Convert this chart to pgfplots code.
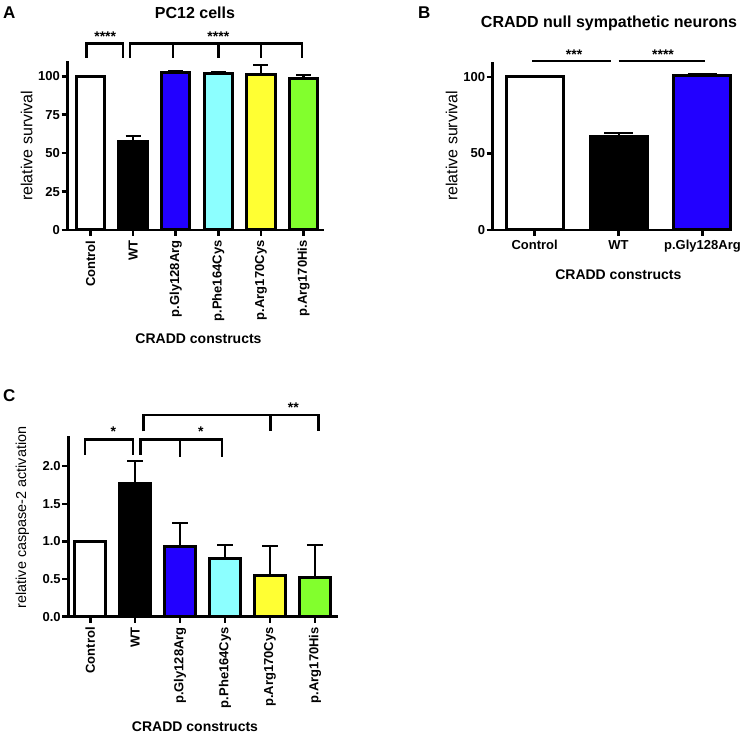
\documentclass[border=0pt]{standalone}
\usepackage{pgfplots}
\pgfplotsset{compat=1.18}
\usepackage{fontspec}
\setmainfont{Liberation Sans}
\definecolor{cblue}{RGB}{34,0,255}
\definecolor{ccyan}{RGB}{140,255,255}
\definecolor{cyel}{RGB}{255,255,51}
\definecolor{cgreen}{RGB}{130,255,45}
\newcommand{\fs}[1]{\fontsize{#1}{#1}\selectfont}
\tikzset{brk/.style={line width=2.6pt, line join=miter}}
\pgfplotsset{
  prism/.style={
    scale only axis,
    anchor=south west,
    axis lines=left,
    axis line style={-, line width=2.8pt},
    tick align=outside,
    major tick length=6pt,
    tick style={line width=2.5pt, black},
    ymin=0,
    clip=false,
    /pgf/number format/assume math mode=true,
    tick label style={font=\bfseries\fs{13}},
    yticklabel style={inner sep=1.5pt},
    xticklabel style={yshift=-1pt},
  },
  pbar/.style={ybar, bar shift=0pt, draw=black, line width=3pt},
  ebar/.style={ybar, bar shift=0pt, draw=black, line width=3pt,
    error bars/y dir=plus, error bars/y explicit,
    error bars/error bar style={line width=2.1pt, black},
    error bars/error mark=|,
    error bars/error mark options={mark size=#1, line width=2.1pt, black}},
  ebar/.default=7.5pt,
}
\begin{document}
\begin{tikzpicture}
\useasboundingbox (0,0) rectangle (747pt,733pt);

% ---------------- Panel A ----------------
\begin{axis}[prism, at={(67.5pt,503pt)}, width=256.5pt, height=169.1pt,
  xmin=-0.54, xmax=5.48, ymax=110, ytick={0,25,50,75,100},
  xtick={0,1,2,3,4,5},
  xticklabels={Control,WT,p.Gly128Arg,p.Phe164Cys,p.Arg170Cys,p.Arg170His},
  xticklabel style={rotate=90, anchor=east},
  bar width=28.5pt]
\addplot[pbar, fill=white] coordinates {(0,100)};
\addplot[ebar, fill=black] coordinates {(1,57.3) +- (0,4.0)};
\addplot[ebar, fill=cblue] coordinates {(2,102.7) +- (0,1.0)};
\addplot[ebar, fill=ccyan] coordinates {(3,101.9) +- (0,1.0)};
\addplot[ebar, fill=cyel] coordinates {(4,101.4) +- (0,5.9)};
\addplot[ebar, fill=cgreen] coordinates {(5,98.3) +- (0,2.7)};
\draw[brk] (axis cs:-0.1,112) -- (axis cs:-0.1,121.5) -- (axis cs:0.76,121.5) -- (axis cs:0.76,112);
\draw[brk] (axis cs:0.93,112) -- (axis cs:0.93,121.5) -- (axis cs:4.96,121.5) -- (axis cs:4.96,112);
\draw[brk] (axis cs:1.94,121.5) -- (axis cs:1.94,112);
\draw[brk] (axis cs:3.0,121.5) -- (axis cs:3.0,112);
\draw[brk] (axis cs:4.0,121.5) -- (axis cs:4.0,112);
\node[anchor=base, font=\bfseries\fs{14}, inner sep=0pt] at (axis cs:0.345,122.6) {****};
\node[anchor=base, font=\bfseries\fs{14}, inner sep=0pt] at (axis cs:3.0,122.6) {****};
\end{axis}

% ---------------- Panel B ----------------
\begin{axis}[prism, at={(492.7pt,503pt)}, width=238.3pt, height=168.3pt,
  xmin=-0.5, xmax=2.34, ymax=110, ytick={0,50,100},
  xtick={0,1,2},
  xticklabels={Control,WT,p.Gly128Arg},
  xticklabel style={anchor=north},
  bar width=57pt]
\addplot[pbar, fill=white] coordinates {(0,100)};
\addplot[ebar=14.5pt, fill=black] coordinates {(1,61.4) +- (0,1.8)};
\addplot[ebar=14.5pt, fill=cblue] coordinates {(2,100.8) +- (0,1.0)};
\draw[brk] (axis cs:-0.03,110.4) -- (axis cs:0.907,110.4);
\draw[brk] (axis cs:1.0,110.4) -- (axis cs:2.03,110.4);
\node[anchor=base, font=\bfseries\fs{14}, inner sep=0pt] at (axis cs:0.47,111.4) {***};
\node[anchor=base, font=\bfseries\fs{14}, inner sep=0pt] at (axis cs:1.53,111.4) {****};
\end{axis}

% ---------------- Panel C ----------------
\begin{axis}[prism, at={(68.3pt,116.3pt)}, width=270pt, height=180.7pt,
  xmin=-0.49, xmax=5.52, ymax=2.4, ytick={0,0.5,1.0,1.5,2.0},
  yticklabel style={/pgf/number format/.cd, fixed, fixed zerofill, precision=1},
  xtick={0,1,2,3,4,5},
  xticklabels={Control,WT,p.Gly128Arg,p.Phe164Cys,p.Arg170Cys,p.Arg170His},
  xticklabel style={rotate=90, anchor=east},
  bar width=31pt]
\addplot[pbar, fill=white] coordinates {(0,1.0)};
\addplot[ebar=8pt, fill=black] coordinates {(1,1.77) +- (0,0.30)};
\addplot[ebar=8pt, fill=cblue] coordinates {(2,0.93) +- (0,0.31)};
\addplot[ebar=8pt, fill=ccyan] coordinates {(3,0.774) +- (0,0.177)};
\addplot[ebar=8pt, fill=cyel] coordinates {(4,0.544) +- (0,0.398)};
\addplot[ebar=8pt, fill=cgreen] coordinates {(5,0.522) +- (0,0.429)};
\draw[brk] (axis cs:-0.12,2.15) -- (axis cs:-0.12,2.355) -- (axis cs:0.95,2.355) -- (axis cs:0.95,2.15);
\draw[brk] (axis cs:1.12,2.15) -- (axis cs:1.12,2.355) -- (axis cs:2.93,2.355) -- (axis cs:2.93,2.125);
\draw[brk] (axis cs:2.0,2.355) -- (axis cs:2.0,2.125);
\draw[brk] (axis cs:1.18,2.46) -- (axis cs:1.18,2.68) -- (axis cs:5.08,2.68) -- (axis cs:5.08,2.46);
\draw[brk] (axis cs:4.01,2.68) -- (axis cs:4.01,2.46);
\node[anchor=base, font=\bfseries\fs{14}, inner sep=0pt] at (axis cs:0.51,2.39) {*};
\node[anchor=base, font=\bfseries\fs{14}, inner sep=0pt] at (axis cs:2.46,2.39) {*};
\node[anchor=base, font=\bfseries\fs{14}, inner sep=0pt] at (axis cs:4.52,2.71) {**};
\end{axis}

% ---------------- Labels ----------------
\node[anchor=base west, font=\bfseries\fs{17}, inner sep=0pt] at (3pt,714.7pt) {A};
\node[anchor=base, font=\bfseries\fs{16}, inner sep=0pt] at (195pt,714.7pt) {PC12 cells};
\node[anchor=base west, font=\bfseries\fs{17}, inner sep=0pt] at (418pt,714.7pt) {B};
\node[anchor=base, font=\bfseries\fs{16}, inner sep=0pt] at (609pt,705.7pt) {CRADD null sympathetic neurons};
\node[anchor=base west, font=\bfseries\fs{17}, inner sep=0pt] at (3pt,331.3pt) {C};

\node[rotate=90, font=\fs{16}, inner sep=0pt] at (26.7pt,587.3pt) {relative survival};
\node[rotate=90, font=\fs{16}, inner sep=0pt] at (451.7pt,587.2pt) {relative survival};
\node[rotate=90, font=\fs{14.4}, inner sep=0pt] at (22.5pt,215.5pt) {relative caspase-2 activation};

\node[anchor=base, font=\bfseries\fs{14}, inner sep=0pt] at (198.5pt,389pt) {CRADD constructs};
\node[anchor=base, font=\bfseries\fs{14}, inner sep=0pt] at (618.3pt,453.7pt) {CRADD constructs};
\node[anchor=base, font=\bfseries\fs{14}, inner sep=0pt] at (195pt,1.5pt) {CRADD constructs};
\end{tikzpicture}
\end{document}
